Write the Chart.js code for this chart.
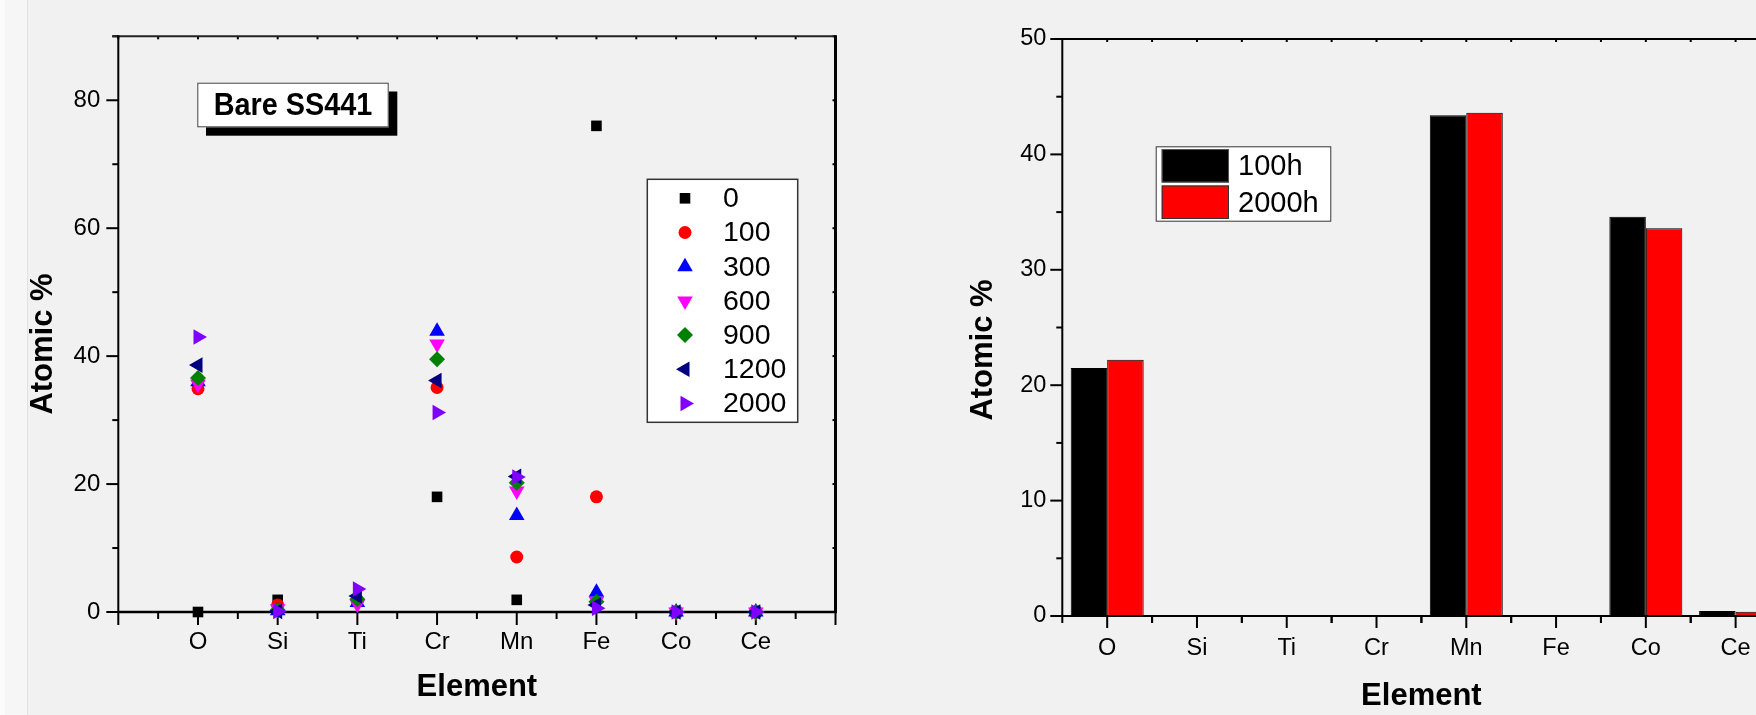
<!DOCTYPE html>
<html>
<head>
<meta charset="utf-8">
<script src="https://cdn.jsdelivr.net/npm/chart.js@4/dist/chart.umd.min.js"></script>
<style>
    html, body { margin: 0; padding: 0; width: 1756px; height: 715px; overflow: hidden; background: #f1f1f1; }
    #edge { position: absolute; left: 0; top: 0; width: 22px; height: 715px; background: #f6f6f6;
            border-left: 5px solid #fbfbfb; border-right: 1px solid #e2e2e2; }
    #left-box { position: absolute; left: 0; top: 0; width: 880px; height: 715px; }
    #right-box { position: absolute; left: 900px; top: 0; width: 900px; height: 715px; }
</style>
</head>
<body>
<div id="edge"></div>
<div id="left-box"><canvas id="scatter-plot" width="880" height="715"></canvas></div>
<div id="right-box"><canvas id="bar-plot" width="900" height="715"></canvas></div>
<script>
// element categories (same for both panels)
const elements = ['O', 'Si', 'Ti', 'Cr', 'Mn', 'Fe', 'Co', 'Ce'];

// left panel: atomic % per exposure time (h)
const timeLabels = ['0', '100', '300', '600', '900', '1200', '2000'];
const at0    = [ 0.0, 1.9, 1.6, 18.0,  1.9, 76.0, 0, 0];
const at100  = [34.9, 1.1, 1.8, 35.1,  8.6, 18.0, 0, 0];
const at300  = [36.0, 0.2, 1.5, 43.9, 15.1,  3.1, 0, 0];
const at600  = [35.6, 0.5, 1.2, 41.9, 18.9,  1.7, 0, 0];
const at900  = [36.6, 0.3, 2.0, 39.5, 20.2,  1.6, 0, 0];
const at1200 = [38.6, 0.1, 2.5, 36.2, 21.2,  1.1, 0, 0];
const at2000 = [43.0, 0.1, 3.6, 31.2, 21.1,  0.6, 0, 0];

// right panel: atomic % after 100h / 2000h
const barLabels = ['100h', '2000h'];
const bar100h  = [21.5, 0, 0,    0.08, 43.4, 0, 34.6, 0.43];
const bar2000h = [22.2, 0, 0.08, 0.08, 43.6, 0, 33.6, 0.37];

const FONT = "'Liberation Sans', Arial, sans-serif";

const seriesStyles = [
    { color: '#000000', style: 'rect',     rot: 0,   r: 7.5 },
    { color: '#ff0000', style: 'circle',   rot: 0,   r: 6.5 },
    { color: '#0000ff', style: 'triangle', rot: 0,   r: 9 },
    { color: '#ff00ff', style: 'triangle', rot: 180, r: 9 },
    { color: '#008000', style: 'rectRot',  rot: 0,   r: 8 },
    { color: '#000080', style: 'triangle', rot: -90, r: 9 },
    { color: '#8000ff', style: 'triangle', rot: 90,  r: 9 }
];
const seriesValues = [at0, at100, at300, at600, at900, at1200, at2000];

function line(ctx, x1, y1, x2, y2) {
    ctx.beginPath();
    ctx.moveTo(x1, y1);
    ctx.lineTo(x2, y2);
    ctx.stroke();
}

function marker(ctx, s, x, y) {
    ctx.fillStyle = s.color;
    ctx.strokeStyle = s.color;
    Chart.helpers.drawPoint(ctx, { pointStyle: s.style, rotation: s.rot, radius: s.r, borderWidth: 0 }, x, y);
}

// frame, ticks, legend and titles for the scatter panel
const scatterDecor = {
    id: 'scatterDecor',
    beforeDatasetsDraw(chart) {
        const { ctx, chartArea: { left, right, top, bottom } } = chart;
        const xs = chart.scales.x, ys = chart.scales.y;
        ctx.save();
        ctx.strokeStyle = '#000';
        ctx.lineWidth = 2;
        for (let v = -1; v <= 8; v += 0.5) {
            const px = xs.getPixelForValue(v);
            const major = Number.isInteger(v);
            line(ctx, px, bottom, px, bottom + (major ? 13 : 7));
            line(ctx, px, top, px, top + 3);
        }
        for (let v = 0; v <= 90; v += 10) {
            const py = ys.getPixelForValue(v);
            line(ctx, left, py, left - (v % 20 === 0 ? 12 : 6), py);
            line(ctx, right, py, right - 3, py);
        }
        ctx.strokeStyle = '#222';
        line(ctx, left - 6, top, right, top);
        ctx.strokeStyle = '#000';
        line(ctx, left, top - 1, left, bottom + 1);
        ctx.lineWidth = 2.5;
        line(ctx, left, bottom, right + 1, bottom);
        ctx.lineWidth = 3;
        line(ctx, right, top - 1, right, bottom + 1);
        ctx.restore();
    },
    afterDatasetsDraw(chart) {
        const { ctx, chartArea: { left, right } } = chart;
        ctx.save();

        // sample box with shadow
        ctx.fillStyle = '#000';
        ctx.fillRect(206, 91.5, 191.3, 44.2);
        ctx.fillStyle = '#fff';
        ctx.fillRect(197.3, 82.7, 191.4, 44.6);
        ctx.strokeStyle = '#444';
        ctx.lineWidth = 1;
        ctx.strokeRect(197.8, 83.2, 190.4, 43.6);
        ctx.fillStyle = '#000';
        ctx.font = 'bold 31px ' + FONT;
        ctx.textAlign = 'center';
        ctx.textBaseline = 'middle';
        ctx.translate(293, 106);
        ctx.scale(0.93, 1);
        ctx.fillText('Bare SS441', 0, 0);
        ctx.setTransform(1, 0, 0, 1, 0, 0);

        // legend
        ctx.fillStyle = '#fff';
        ctx.fillRect(647.3, 179.3, 150.4, 243);
        ctx.strokeStyle = '#333';
        ctx.lineWidth = 1.5;
        ctx.strokeRect(647.3, 179.3, 150.4, 243);
        ctx.font = '28.5px ' + FONT;
        ctx.textAlign = 'left';
        seriesStyles.forEach((s, i) => {
            const y = 198.3 + i * 34.2;
            marker(ctx, s, 685, y);
            ctx.fillStyle = '#000';
            ctx.fillText(timeLabels[i], 723, y + 1);
        });

        // axis titles
        ctx.fillStyle = '#000';
        ctx.font = 'bold 31px ' + FONT;
        ctx.textAlign = 'center';
        ctx.fillText('Element', (left + right) / 2, 687);
        ctx.translate(43, 344);
        ctx.rotate(-Math.PI / 2);
        ctx.fillText('Atomic %', 0, 0);
        ctx.restore();
    }
};

// frame, ticks, legend and titles for the bar panel
const barDecor = {
    id: 'barDecor',
    afterDatasetsDraw(chart) {
        const { ctx, chartArea: { left, right, top, bottom } } = chart;
        const xs = chart.scales.x, ys = chart.scales.y;
        const half = (xs.getPixelForValue(1) - xs.getPixelForValue(0)) / 2;
        ctx.save();
        ctx.strokeStyle = '#000';
        ctx.lineWidth = 2;
        for (let i = 0; i < elements.length; i++) {
            const c = xs.getPixelForValue(i);
            line(ctx, c, bottom, c, bottom + 12);
            line(ctx, c - half, bottom, c - half, bottom + 7);
            line(ctx, c + half, bottom, c + half, bottom + 7);
            line(ctx, c, top, c, top + 3);
            line(ctx, c + half, top, c + half, top + 3);
        }
        for (let v = 0; v <= 50; v += 5) {
            const py = ys.getPixelForValue(v);
            line(ctx, left, py, left - (v % 10 === 0 ? 12 : 6), py);
        }
        line(ctx, left - 1, top, chart.width, top);
        line(ctx, left, top - 1, left, bottom + 1);
        line(ctx, left - 1, bottom, chart.width, bottom);

        // legend
        ctx.fillStyle = '#fff';
        ctx.fillRect(255.7, 146.3, 175.6, 75.4);
        ctx.strokeStyle = '#333';
        ctx.lineWidth = 1;
        ctx.strokeRect(256.2, 146.8, 174.6, 74.4);
        chart.data.datasets.forEach((ds, i) => {
            const y0 = 149 + i * 36.5;
            ctx.fillStyle = ds.backgroundColor;
            ctx.fillRect(261.7, y0, 67.3, 33.5);
            ctx.strokeStyle = i === 0 ? '#555' : '#333';
            ctx.strokeRect(262.2, y0 + 0.5, 66.3, 32.5);
            ctx.fillStyle = '#000';
            ctx.font = '29px ' + FONT;
            ctx.textAlign = 'left';
            ctx.textBaseline = 'middle';
            ctx.fillText(barLabels[i], 338, y0 + 18);
        });

        // axis titles
        ctx.font = 'bold 31px ' + FONT;
        ctx.textAlign = 'center';
        ctx.textBaseline = 'middle';
        ctx.fillText('Element', (left + right) / 2, 696);
        ctx.translate(83, 350);
        ctx.rotate(-Math.PI / 2);
        ctx.fillText('Atomic %', 0, 0);
        ctx.restore();
    }
};

const scatterChart = new Chart(document.getElementById('scatter-plot').getContext('2d'), {
    type: 'scatter',
    plugins: [scatterDecor],
    data: {
        datasets: seriesValues.map((vals, i) => ({
            label: timeLabels[i],
            data: vals.map((v, j) => ({ x: j, y: v })),
            order: seriesValues.length - i,
            pointStyle: seriesStyles[i].style,
            rotation: seriesStyles[i].rot,
            pointRadius: seriesStyles[i].r,
            backgroundColor: seriesStyles[i].color,
            borderColor: seriesStyles[i].color,
            borderWidth: 0,
            clip: false
        }))
    },
    options: {
        responsive: false,
        animation: false,
        events: [],
        layout: { padding: { left: 0, top: 36.3, right: 44.5, bottom: 0 } },
        plugins: { legend: { display: false }, tooltip: { enabled: false } },
        scales: {
            x: {
                type: 'linear',
                min: -1,
                max: 8,
                afterFit: (s) => { s.height = 103; },
                grid: { display: false, drawTicks: false },
                border: { display: false },
                ticks: {
                    stepSize: 1,
                    autoSkip: false,
                    maxRotation: 0,
                    padding: 16,
                    color: '#000',
                    font: { family: FONT, size: 24 },
                    callback: (v) => elements[v] ?? ''
                }
            },
            y: {
                min: 0,
                max: 90,
                afterFit: (s) => { s.width = 118.3; },
                grid: { display: false, drawTicks: false },
                border: { display: false },
                ticks: {
                    stepSize: 10,
                    padding: 18,
                    color: '#000',
                    font: { family: FONT, size: 24 },
                    callback: (v) => (v % 20 === 0 && v <= 80 ? v : '')
                }
            }
        }
    }
});

const barChart = new Chart(document.getElementById('bar-plot').getContext('2d'), {
    type: 'bar',
    plugins: [barDecor],
    data: {
        labels: elements,
        datasets: [
            { label: barLabels[0], data: bar100h, backgroundColor: '#000000', borderColor: '#000000', borderWidth: 1 },
            { label: barLabels[1], data: bar2000h, backgroundColor: '#ff0000', borderColor: '#000000', borderWidth: 1 }
        ]
    },
    options: {
        responsive: false,
        animation: false,
        events: [],
        categoryPercentage: 0.813,
        barPercentage: 1.0,
        layout: { padding: { left: 0, top: 39, right: 19.5, bottom: 0 } },
        plugins: { legend: { display: false }, tooltip: { enabled: false } },
        scales: {
            x: {
                offset: true,
                afterFit: (s) => { s.height = 99; },
                grid: { display: false, drawTicks: false },
                border: { display: false },
                ticks: {
                    autoSkip: false,
                    maxRotation: 0,
                    padding: 18,
                    color: '#000',
                    font: { family: FONT, size: 23.5 }
                }
            },
            y: {
                min: 0,
                max: 50,
                afterFit: (s) => { s.width = 162.3; },
                grid: { display: false, drawTicks: false },
                border: { display: false },
                ticks: {
                    stepSize: 5,
                    padding: 16,
                    color: '#000',
                    font: { family: FONT, size: 23.5 },
                    callback: (v) => (v % 10 === 0 ? v : '')
                }
            }
        }
    }
});
</script>
</body>
</html>
